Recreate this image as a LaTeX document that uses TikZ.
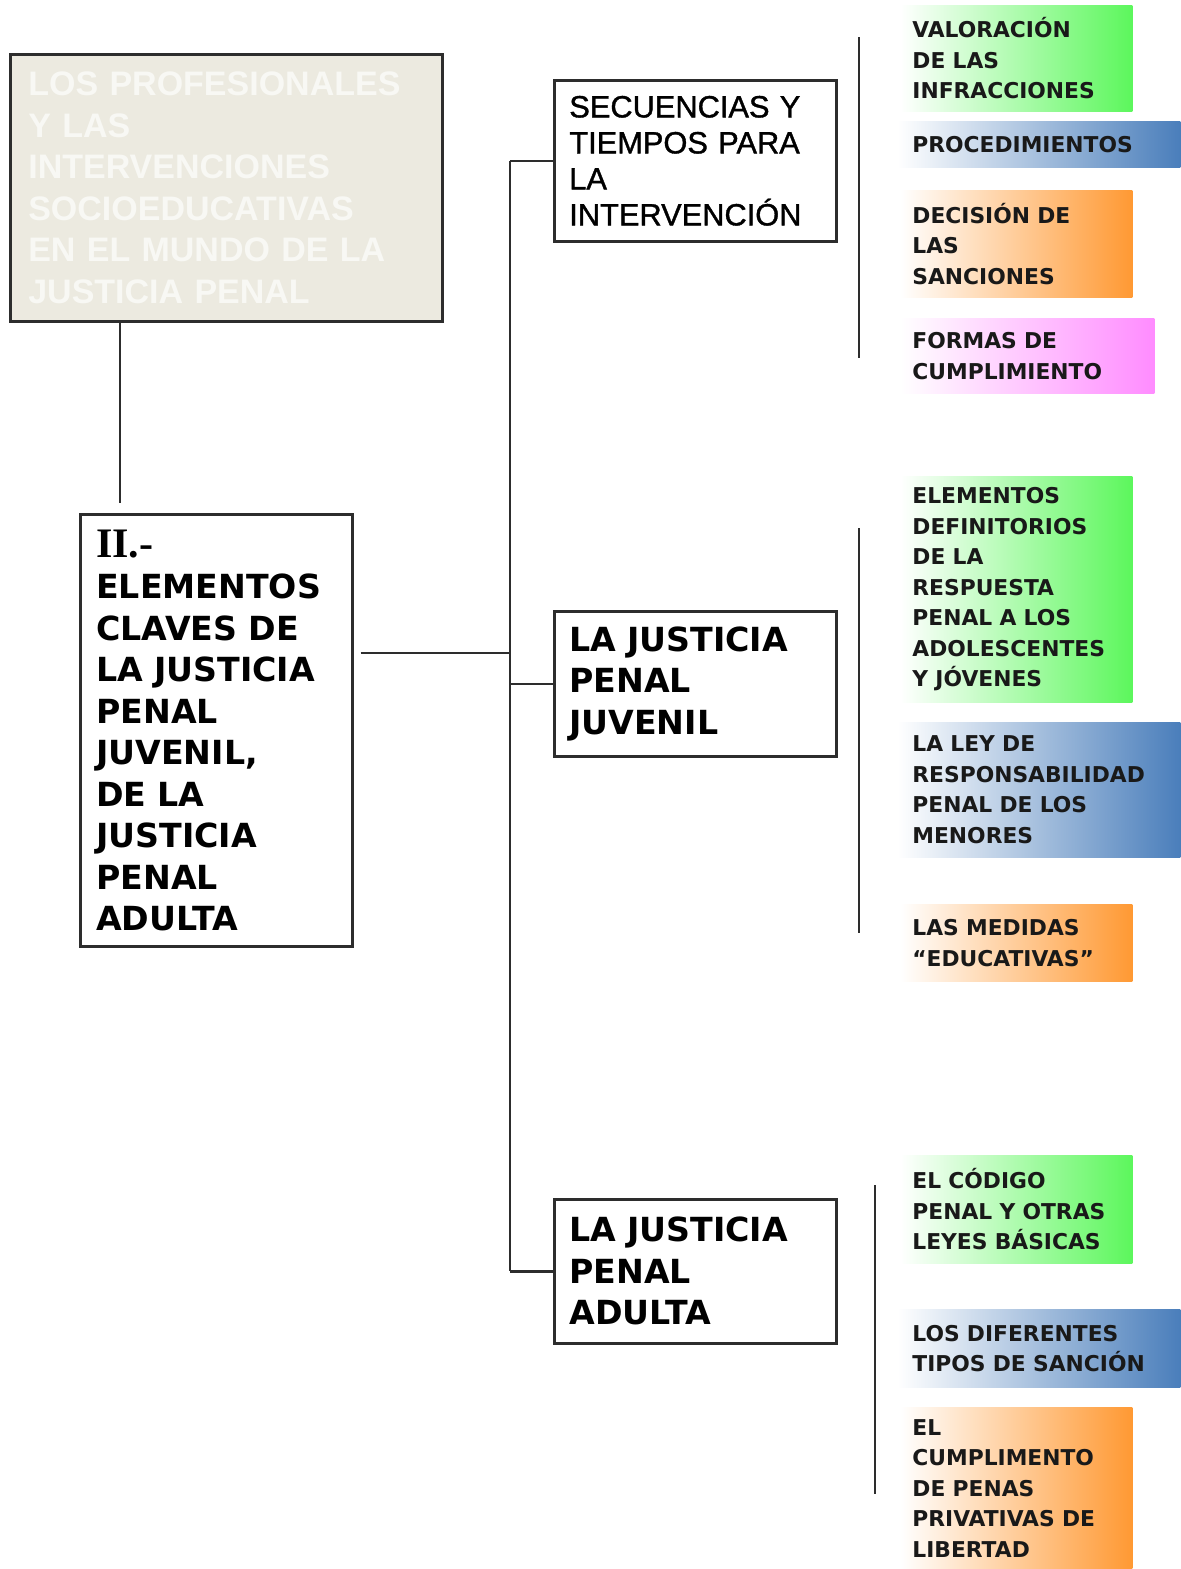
\documentclass[tikz,border=0pt]{standalone}
\usepackage{fontspec}
\setmainfont{DejaVu Sans}
\newfontfamily\titlefont{Liberation Sans}
\newfontfamily\seqfont[FakeBold=1.2]{Liberation Sans}
\newfontfamily\romfont{Liberation Serif}
\usetikzlibrary{positioning}

\definecolor{titlefill}{RGB}{236,234,224}
\definecolor{titletext}{RGB}{248,248,244}
\definecolor{boxline}{RGB}{45,45,45}
\definecolor{tagGreen}{RGB}{92,247,92}
\definecolor{tagBlue}{RGB}{74,126,187}
\definecolor{tagOrange}{RGB}{255,153,51}
\definecolor{tagPink}{RGB}{255,140,255}

\begin{document}
\begin{tikzpicture}[x=0.5pt,y=-0.5pt,
  tag/.style={rectangle, anchor=north west, align=left, inner xsep=6pt, inner ysep=0pt,
    text=black!90, font=\bfseries\fontsize{10.9}{15.25}\selectfont,
    left color=white, middle color=#1!35!white, right color=#1}]
\tikzstyle{main}=[rectangle, draw=boxline, line width=1.3pt, align=left, inner ysep=0pt, anchor=north west]
\tikzstyle{connect}=[draw=boxline, line width=1.2pt]
\tikzstyle{bigtext}=[font=\bfseries\fontsize{16.6}{20.75}\selectfont]

\useasboundingbox (0,0) rectangle (1180,1569);

% 1. Main boxes
%%%%%%%%%%%%%%%
\node[main, fill=titlefill, text=titletext, inner xsep=9pt, text width=198pt, minimum height=133.5pt,
      font=\titlefont\bfseries\fontsize{17}{20.8}\selectfont] (title) at (9,53)
  {LOS PROFESIONALES\\Y LAS\\INTERVENCIONES\\SOCIOEDUCATIVAS\\EN EL MUNDO DE LA\\JUSTICIA PENAL};
\node[main, bigtext, inner xsep=8pt, text width=120pt, minimum height=216pt] (claves) at (79,513)
  {{\romfont\fontsize{21}{20.75}\selectfont II.-}\\ELEMENTOS\\CLAVES DE\\LA JUSTICIA\\PENAL\\JUVENIL,\\DE LA\\JUSTICIA\\PENAL\\ADULTA};
\node[main, inner xsep=7.5pt, text width=126pt, minimum height=80.5pt,
      font=\seqfont\fontsize{15.4}{18}\selectfont] (secuencias) at (553,79)
  {SECUENCIAS Y\\TIEMPOS PARA\\LA\\INTERVENCIÓN};
\node[main, bigtext, inner xsep=7.5pt, text width=126pt, minimum height=72.5pt] (juvenil) at (553,610)
  {LA JUSTICIA\\PENAL\\JUVENIL};
\node[main, bigtext, inner xsep=7.5pt, text width=126pt, minimum height=72pt] (adulta) at (553,1198)
  {LA JUSTICIA\\PENAL\\ADULTA};

% 2. Coloured tags
%%%%%%%%%%%%%%%%%%
\node[tag=tagGreen, text width=104pt, minimum height=53pt] (valoracion) at (900,5)
  {VALORACIÓN\\DE LAS\\INFRACCIONES};
\node[tag=tagBlue, inner xsep=7.5pt, text width=126.5pt, minimum height=23pt] (procedimientos) at (897,121)
  {PROCEDIMIENTOS};
\node[tag=tagOrange, text width=104pt, minimum height=53.5pt] (decision) at (900,190)
  {DECISIÓN DE\\LAS\\SANCIONES};
\node[tag=tagPink, text width=115pt, minimum height=37.5pt] (formas) at (900,318)
  {FORMAS DE\\CUMPLIMIENTO};

\node[tag=tagGreen, text width=104pt, minimum height=113pt] (definitorios) at (900,476)
  {ELEMENTOS\\DEFINITORIOS\\DE LA\\RESPUESTA\\PENAL A LOS\\ADOLESCENTES\\Y JÓVENES};
\node[tag=tagBlue, inner xsep=7.5pt, text width=126.5pt, minimum height=67.5pt] (ley) at (897,722)
  {LA LEY DE\\RESPONSABILIDAD\\PENAL DE LOS\\MENORES};
\node[tag=tagOrange, text width=104pt, minimum height=38.5pt] (medidas) at (900,904)
  {LAS MEDIDAS\\“EDUCATIVAS”};

\node[tag=tagGreen, text width=104pt, minimum height=54pt] (codigo) at (900,1155)
  {EL CÓDIGO\\PENAL Y OTRAS\\LEYES BÁSICAS};
\node[tag=tagBlue, inner xsep=7.5pt, text width=126.5pt, minimum height=39pt] (tipos) at (897,1309)
  {LOS DIFERENTES\\TIPOS DE SANCIÓN};
\node[tag=tagOrange, text width=104pt, minimum height=81pt] (penas) at (900,1407)
  {EL\\CUMPLIMENTO\\DE PENAS\\PRIVATIVAS DE\\LIBERTAD};

% 3. Lines
%%%%%%%%%%
\coordinate (hub) at (510,653);
\draw[connect] ([xshift=55.5pt]title.south west) -- ([xshift=20.5pt,yshift=5pt]claves.north west);
\draw[connect] ([xshift=3.5pt]claves.east |- hub) -- (hub);
\draw[connect] (secuencias.west -| hub) -- (adulta.west -| hub);
\draw[connect] (secuencias.west -| hub) -- (secuencias.west);
\draw[connect] (juvenil.west -| hub) -- (juvenil.west);
\draw[connect] (adulta.west -| hub) -- (adulta.west);

\draw[connect] (859,37) -- (859,358);
\draw[connect] (859,528) -- (859,933);
\draw[connect] (875,1185) -- (875,1494);

\end{tikzpicture}
\end{document}
